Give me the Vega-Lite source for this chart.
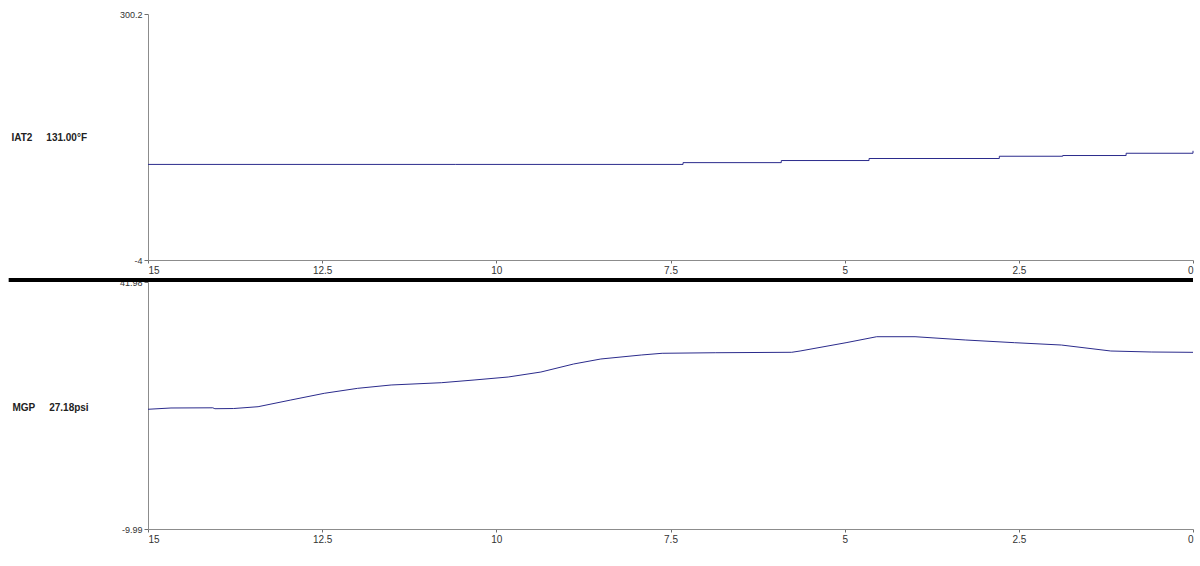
{
  "$schema": "https://vega.github.io/schema/vega-lite/v6.json",
  "background": "white",
  "padding": {"left": 6, "top": 10, "right": 8, "bottom": 21},
  "spacing": 22,
  "bounds": "flush",
  "config": {
    "view": {"stroke": null},
    "font": "Liberation Sans",
    "axis": {"grid": false, "domainColor": "#8c8c8c", "tickColor": "#6e6e6e", "labelColor": "#333333", "labelFontSize": 9, "tickSize": 3}
  },
  "datasets": {
    "iat": [
      {"t": 0, "v": 131},
      {"t": 0.96, "v": 128},
      {"t": 1.87, "v": 125.2},
      {"t": 2.78, "v": 124.3},
      {"t": 4.65, "v": 121.5},
      {"t": 5.91, "v": 119},
      {"t": 7.32, "v": 116.4},
      {"t": 10.59, "v": 114.2},
      {"t": 15, "v": 114.2}
    ],
    "mgp": [
      {"t": 15, "v": 15.2},
      {"t": 14.67, "v": 15.47},
      {"t": 14.07, "v": 15.51},
      {"t": 14.04, "v": 15.32},
      {"t": 13.77, "v": 15.36},
      {"t": 13.42, "v": 15.74},
      {"t": 12.95, "v": 17.15},
      {"t": 12.47, "v": 18.56},
      {"t": 11.99, "v": 19.61},
      {"t": 11.51, "v": 20.31},
      {"t": 10.79, "v": 20.79},
      {"t": 10.32, "v": 21.36},
      {"t": 9.83, "v": 21.99},
      {"t": 9.36, "v": 23.04},
      {"t": 8.89, "v": 24.73},
      {"t": 8.5, "v": 25.78},
      {"t": 7.92, "v": 26.62},
      {"t": 7.62, "v": 26.98},
      {"t": 6.85, "v": 27.1},
      {"t": 5.76, "v": 27.19},
      {"t": 5.64, "v": 27.46},
      {"t": 4.98, "v": 29.21},
      {"t": 4.54, "v": 30.47},
      {"t": 3.99, "v": 30.47},
      {"t": 3.27, "v": 29.78},
      {"t": 2.56, "v": 29.21},
      {"t": 1.89, "v": 28.72},
      {"t": 1.18, "v": 27.46},
      {"t": 0.6, "v": 27.25},
      {"t": 0, "v": 27.18}
    ],
    "sep": [{"x0": 17, "x1": 0, "y": 42.4}]
  },
  "vconcat": [
    {
      "width": 1045,
      "height": 246,
      "data": {"name": "iat"},
      "mark": {"type": "line", "interpolate": "step-after", "color": "#2b2b8c", "strokeWidth": 1},
      "encoding": {
        "x": {
          "field": "t", "type": "quantitative",
          "scale": {"domain": [0, 15], "reverse": true, "nice": false, "zero": false},
          "axis": {"values": [0, 2.5, 5, 7.5, 10, 12.5, 15], "labelExpr": "toString(datum.value)", "labelFlush": true, "title": null, "labelFontSize": 10, "labelPadding": 2}
        },
        "y": {
          "field": "v", "type": "quantitative",
          "scale": {"domain": [-4, 300.2], "nice": false, "zero": false},
          "axis": {"values": [-4, 300.2], "labelExpr": "toString(datum.value)", "tickSize": 4, "labelPadding": 2,
            "title": "IAT2\u00a0\u00a0\u00a0\u00a0\u00a0131.00°F", "titleAngle": 0, "titleAlign": "left", "titleBaseline": "middle",
            "titleX": -137, "titleY": 123, "titleFontSize": 10, "titleFontWeight": "bold", "titleColor": "#222222"}
        }
      }
    },
    {
      "width": 1045,
      "height": 247,
      "layer": [
        {
          "data": {"name": "mgp"},
          "mark": {"type": "line", "color": "#2b2b8c", "strokeWidth": 1},
          "encoding": {
            "x": {
              "field": "t", "type": "quantitative",
              "scale": {"domain": [0, 15], "reverse": true, "nice": false, "zero": false},
              "axis": {"values": [0, 2.5, 5, 7.5, 10, 12.5, 15], "labelExpr": "toString(datum.value)", "labelFlush": true, "title": null, "labelFontSize": 10, "labelPadding": 2}
            },
            "y": {
              "field": "v", "type": "quantitative",
              "scale": {"domain": [-9.99, 41.98], "nice": false, "zero": false},
              "axis": {"values": [-9.99, 41.98], "labelExpr": "toString(datum.value)", "tickSize": 4, "labelPadding": 2,
                "title": "MGP\u00a0\u00a0\u00a0\u00a0\u00a027.18psi", "titleAngle": 0, "titleAlign": "left", "titleBaseline": "middle",
                "titleX": -136, "titleY": 125, "titleFontSize": 10, "titleFontWeight": "bold", "titleColor": "#222222"}
            }
          }
        },
        {
          "data": {"name": "sep"},
          "mark": {"type": "rule", "color": "black", "strokeWidth": 4, "clip": false},
          "encoding": {
            "x": {"field": "x0", "type": "quantitative"},
            "x2": {"field": "x1"},
            "y": {"field": "y", "type": "quantitative"}
          }
        }
      ]
    }
  ]
}
